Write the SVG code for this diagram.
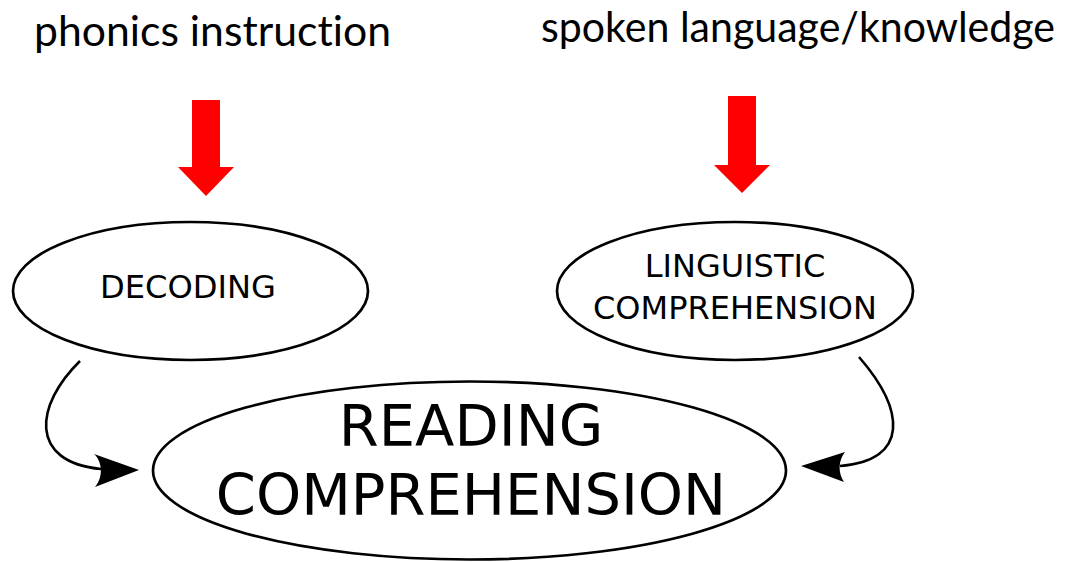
<svg xmlns="http://www.w3.org/2000/svg" width="1081" height="562" viewBox="0 0 1081 562">
  <style>
    .title { font-family: Lato, "Open Sans", sans-serif; font-size: 42px; fill: #000; font-variant-ligatures: none; }
    .node ellipse { fill: #fff; stroke: #000; stroke-width: 2.7; }
    .label { font-family: "DejaVu Sans", sans-serif; fill: #000; text-anchor: middle; }
    .small { font-size: 32px; }
    .big { font-size: 57.5px; }
    .feed { fill: #ff0000; }
    .link { fill: none; stroke: #000; stroke-width: 2.6; }
    .head { fill: #000; }
  </style>
  <rect width="1081" height="562" fill="#fff"/>

  <!-- source labels -->
  <g id="source-phonics">
    <text class="title" x="34" y="46" textLength="357" lengthAdjust="spacingAndGlyphs">phonics instruction</text>
  </g>
  <g id="source-spoken">
    <text class="title" x="541" y="42" textLength="514" lengthAdjust="spacingAndGlyphs">spoken language/knowledge</text>
  </g>

  <!-- red feed arrows -->
  <g id="feed-arrows">
    <polygon class="feed" points="192,100 220,100 220,167 234,167 206,196 178,167 192,167"/>
    <polygon class="feed" points="728,96 756,96 756,165 770,165 742,193 714,165 728,165"/>
  </g>

  <!-- nodes -->
  <g id="decoding" class="node">
    <ellipse cx="190.5" cy="291" rx="177.5" ry="69"/>
    <text class="label small" x="188" y="298" textLength="176" lengthAdjust="spacingAndGlyphs">DECODING</text>
  </g>
  <g id="linguistic-comprehension" class="node">
    <ellipse cx="735" cy="291" rx="178" ry="69"/>
    <text class="label small" x="735" y="277">LINGUISTIC</text>
    <text class="label small" x="735" y="319">COMPREHENSION</text>
  </g>
  <g id="reading-comprehension" class="node">
    <ellipse cx="469.5" cy="470.5" rx="316.5" ry="89"/>
    <text class="label big" x="471" y="446">READING</text>
    <text class="label big" x="471" y="515">COMPREHENSION</text>
  </g>

  <!-- connectors -->
  <g id="connectors">
    <path class="link" d="M80,361 C35,405 28,462 101,469"/>
    <path class="head" d="M139,470 L94,454 C103,462 103,478 95,487 Z"/>
    <path class="link" d="M859,357 C905,410 910,460 840,466"/>
    <path class="head" d="M801,466 L845,452 C838,461 838,473 844,482 Z"/>
  </g>
</svg>
